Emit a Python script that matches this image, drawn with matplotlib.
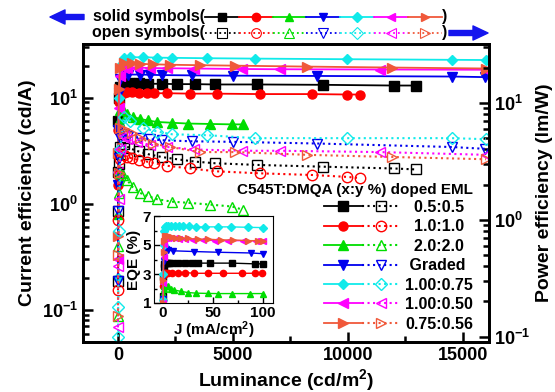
import matplotlib
matplotlib.use("Agg")
import matplotlib.pyplot as plt
from matplotlib.legend_handler import HandlerTuple
from matplotlib.patches import FancyArrowPatch
from matplotlib.ticker import MultipleLocator

plt.rcParams["font.family"] = ["Liberation Sans", "DejaVu Sans"]
plt.rcParams["font.weight"] = "bold"
plt.rcParams["axes.labelweight"] = "bold"
plt.rcParams["mathtext.fontset"] = "custom"
plt.rcParams["mathtext.rm"] = "Liberation Sans:bold"
plt.rcParams["mathtext.bf"] = "Liberation Sans:bold"
plt.rcParams["mathtext.default"] = "bf"

# подписи устройств, цвета и маркеры
labels = ["0.5:0.5", "1.0:1.0", "2.0:2.0", "Graded", "1.00:0.75", "1.00:0.50", "0.75:0.56"]
colors = ["#000000", "#ff0000", "#00dd00", "#0000ee", "#10eaea", "#ff00ff", "#f0583a"]
markers = ["s", "o", "^", "v", "D", "<", ">"]

# яркость (cd/m2), эффективность по току (cd/A), по мощности (lm/W)
lum_a = [2, 10, 40, 100, 250, 500, 900, 1300, 1900, 2560, 3350, 4220, 6050, 8900, 12000, 12950]
ce_a = [2, 6, 10, 12.5, 13.5, 13.6, 13.6, 13.5, 13.5, 13.4, 13.4, 13.3, 13.3, 13.2, 13.0, 13.0]
pe_a = [0.3, 1.2, 3, 4.2, 4.5, 4.1, 3.85, 3.65, 3.45, 3.3, 3.15, 3.05, 2.95, 2.85, 2.75, 2.7]

lum_b = [2, 10, 40, 100, 250, 400, 620, 900, 1260, 1550, 2150, 3130, 4300, 6170, 8430, 9960, 10520]
ce_b = [1.5, 5, 9, 10.6, 11.1, 11.2, 11.2, 11.1, 11.1, 11.0, 11.0, 10.9, 10.9, 10.8, 10.8, 10.7, 10.7]
pe_b = [0.25, 1.0, 2.4, 3.3, 3.6, 3.45, 3.35, 3.25, 3.15, 3.07, 2.9, 2.75, 2.6, 2.5, 2.42, 2.33, 2.28]

lum_c = [2, 10, 40, 90, 200, 390, 650, 960, 1300, 1700, 2350, 3040, 4000, 4960, 5430]
ce_c = [0.8, 3, 6, 7.6, 7.6, 7.0, 6.6, 6.3, 6.1, 5.9, 5.8, 5.7, 5.65, 5.6, 5.6]
pe_c = [0.15, 0.6, 1.7, 2.5, 2.4, 2.2, 1.9, 1.7, 1.6, 1.5, 1.43, 1.4, 1.35, 1.3, 1.22]

lum_d = [2, 10, 40, 100, 250, 430, 960, 1390, 1910, 3220, 5000, 8650, 14520, 15960]
ce_d = [1.5, 5, 11, 15, 16.3, 16.5, 16.5, 16.4, 16.3, 16.2, 16.1, 16.0, 15.8, 15.6]
pe_d = [0.3, 1.2, 3.4, 5.0, 5.4, 5.2, 5.0, 4.9, 4.8, 4.7, 4.65, 4.5, 4.2, 4.05]

lum_e = [2, 10, 40, 100, 250, 520, 1090, 1700, 2350, 3870, 5960, 9960, 14520, 16000]
ce_e = [0.2, 2, 10, 20, 23.5, 24, 24, 23.8, 23.7, 23.5, 23.3, 23.0, 22.7, 22.6]
pe_e = [0.1, 0.18, 0.8, 4, 7.6, 7.0, 6.1, 5.7, 5.4, 5.3, 5.0, 5.0, 5.0, 4.9]

lum_f = [2, 10, 40, 100, 250, 400, 830, 1390, 2130, 3300, 5400, 7050, 11400, 16000]
ce_f = [0.3, 2, 8, 16, 19, 19.2, 19.2, 19.0, 18.9, 18.8, 18.6, 18.5, 18.4, 18.3]
pe_f = [0.12, 0.4, 1.5, 4, 5.2, 4.9, 4.6, 4.4, 4.2, 4.0, 3.9, 3.9, 3.8, 3.6]

lum_g = [2, 10, 40, 90, 250, 610, 960, 1520, 2260, 3570, 5090, 8220, 11900, 16000]
ce_g = [0.5, 3, 12, 19, 21, 21, 20.8, 20.6, 20.4, 20.2, 20.0, 19.6, 19.2, 18.8]
pe_g = [0.15, 0.5, 2.5, 6.1, 6.0, 5.5, 5.0, 4.5, 4.2, 3.8, 3.8, 3.6, 3.45, 3.3]

# вставка: плотность тока (mA/cm2) и EQE (%)
j_a = [0.1, 0.3, 0.6, 1, 2, 3, 4, 6, 9, 15, 22, 29, 35, 47, 69, 92, 100]
eqe_a = [1.5, 2.8, 3.5, 3.7, 3.75, 3.75, 3.75, 3.75, 3.75, 3.75, 3.75, 3.75, 3.75, 3.75, 3.75, 3.7, 3.7]
j_b = [0.1, 0.3, 0.6, 1, 2, 3, 5, 9, 15, 22, 31, 45, 60, 79, 92, 99]
eqe_b = [1.2, 2.2, 2.9, 3.05, 3.1, 3.1, 3.1, 3.1, 3.1, 3.1, 3.05, 3.05, 3.05, 3.05, 3.05, 3.05]
j_c = [0.1, 0.3, 0.6, 1, 2, 3, 5, 8, 11, 18, 25, 33, 45, 55, 69, 87, 100]
eqe_c = [1.1, 1.6, 2.0, 2.2, 2.25, 2.2, 2.15, 2.0, 1.9, 1.8, 1.72, 1.68, 1.66, 1.65, 1.65, 1.65, 1.65]
j_d = [0.1, 0.3, 0.6, 1, 2, 3, 5, 10, 31, 55, 88, 100]
eqe_d = [1.3, 2.8, 3.9, 4.4, 4.65, 4.7, 4.65, 4.6, 4.55, 4.5, 4.45, 4.4]
j_e = [0.1, 0.3, 0.6, 1, 2, 3, 5, 8, 12, 16, 20, 26, 33, 42, 55, 68, 85, 100]
eqe_e = [1.2, 3.0, 5.0, 6.0, 6.25, 6.3, 6.3, 6.3, 6.3, 6.3, 6.28, 6.28, 6.25, 6.25, 6.25, 6.25, 6.22, 6.2]
j_f = [0.1, 0.3, 0.6, 1, 2, 3, 5, 8, 12, 16, 22, 30, 40, 52, 65, 80, 93, 100]
eqe_f = [1.0, 2.4, 4.2, 5.1, 5.45, 5.5, 5.5, 5.45, 5.45, 5.4, 5.4, 5.35, 5.35, 5.3, 5.3, 5.3, 5.28, 5.25]
j_g = [0.1, 0.3, 0.6, 1, 2, 3, 4, 6, 9, 13, 18, 25, 35, 45, 58, 70, 85, 95, 100]
eqe_g = [1.0, 2.6, 4.5, 5.3, 5.6, 5.65, 5.6, 5.6, 5.55, 5.5, 5.5, 5.45, 5.4, 5.4, 5.35, 5.35, 5.3, 5.3, 5.3]

lums = [lum_a, lum_b, lum_c, lum_d, lum_e, lum_f, lum_g]
ces = [ce_a, ce_b, ce_c, ce_d, ce_e, ce_f, ce_g]
pes = [pe_a, pe_b, pe_c, pe_d, pe_e, pe_f, pe_g]
js = [j_a, j_b, j_c, j_d, j_e, j_f, j_g]
eqes = [eqe_a, eqe_b, eqe_c, eqe_d, eqe_e, eqe_f, eqe_g]

fig = plt.figure(figsize=(5.55, 3.92), dpi=100)
ax = fig.add_axes([0.1495, 0.1276, 0.7315, 0.7602])
ax2 = ax.twinx()

solid_lines, open_lines = [], []
for lum, ce, pe, col, mk in zip(lums, ces, pes, colors, markers):
    ms = 5.5 if mk == "D" else 6.5
    s, = ax.plot(lum, ce, "-", color=col, marker=mk, ms=ms, lw=1.3)
    o, = ax2.plot(lum, pe, ":", color=col, marker=mk, ms=ms + 1, lw=1.5,
                  mfc="none", mec=col, mew=1)
    solid_lines.append(s)
    open_lines.append(o)

ax.set_yscale("log")
ax2.set_yscale("log")
ax.set_ylim(0.05, 32)
ax2.set_ylim(0.09, 32)
ax.set_xlim(-1520, 16130)
ax.xaxis.set_major_locator(MultipleLocator(5000))
ax.xaxis.set_minor_locator(MultipleLocator(2500))

for a in (ax, ax2):
    a.tick_params(which="both", direction="in", width=1.8, labelsize=13)
    a.tick_params(which="major", length=7)
    a.tick_params(which="minor", length=4)
    for sp in a.spines.values():
        sp.set_linewidth(2)

ax.set_xlabel("Luminance (cd/m$^2$)", fontsize=14, labelpad=2)
ax.set_ylabel("Current efficiency (cd/A)", fontsize=14)
ax2.set_ylabel("Power efficiency (lm/W)", fontsize=14)

# подписи в легенде примерно по центру столбца (пробелы спереди)
pad = {"0.5:0.5": 2, "1.0:1.0": 2, "2.0:2.0": 2, "Graded": 1}
leg_labels = [" " * pad.get(l, 0) + l for l in labels]

# легенда: сплошная линия + пунктир в одной строке
leg = ax2.legend(list(zip(solid_lines, open_lines)), leg_labels,
                 title="C545T:DMQA (x:y %) doped EML",
                 loc="lower right", bbox_to_anchor=(0.961, 0.035),
                 borderaxespad=0, borderpad=0, frameon=False,
                 handler_map={tuple: HandlerTuple(ndivide=None, pad=0)},
                 handlelength=4.75, handletextpad=0.3, labelspacing=0.28,
                 alignment="right", prop={"size": 11.5, "weight": "bold"},
                 title_fontproperties={"size": 11, "weight": "bold"})
leg._legend_box.sep = 2

# вставка с EQE
ins = fig.add_axes([154 / 555, 1 - 303 / 392, 119 / 555, 87 / 392])
ins.set_zorder(5)
for j, eqe, col, mk in zip(js, eqes, colors, markers):
    ms = 4 if mk == "D" else 4.5
    ins.plot(j, eqe, "-", color=col, marker=mk, ms=ms, lw=1)
ins.set_xlim(-9, 110)
ins.set_ylim(1, 7)
ins.set_xticks([0, 50, 100])
ins.set_xticks([25, 75], minor=True)
ins.set_yticks([1, 3, 5, 7])
ins.set_yticks([2, 4, 6], minor=True)
ins.tick_params(which="both", direction="in", width=1, labelsize=11, pad=2)
ins.tick_params(which="major", length=4)
ins.tick_params(which="minor", length=2)
ins.set_xlabel("J (mA/cm$^2$)", fontsize=11, labelpad=0)
ins.set_ylabel("EQE (%)", fontsize=11, labelpad=1)

# шапка: образцы символов и стрелки к осям
hdr = fig.add_axes([0.369, 0.8954, 0.427, 0.0816])
hdr.set_xlim(0, 7)
hdr.set_ylim(-0.5, 1.5)
hdr.axis("off")
for i, (col, mk) in enumerate(zip(colors, markers)):
    ms = 5 if mk == "D" else 6
    hdr.plot([i, i + 1], [1, 1], "-", color=col, lw=1.3, clip_on=False)
    hdr.plot([i + 0.5], [1], marker=mk, color=col, ms=ms, clip_on=False)
    hdr.plot([i, i + 1], [0, 0], ":", color=col, lw=1.3, clip_on=False)
    hdr.plot([i + 0.5], [0], marker=mk, mfc="none", mec=col, ms=ms + 1,
             mew=0.8, clip_on=False)

fig.text(0.3694, 1 - 17 / 392, "solid symbols(", ha="right", va="center", fontsize=11.5)
fig.text(0.3694, 1 - 33 / 392, "open symbols(", ha="right", va="center", fontsize=11.5)
fig.text(0.797, 1 - 17 / 392, ")", ha="left", va="center", fontsize=11.5)
fig.text(0.797, 1 - 33 / 392, ")", ha="left", va="center", fontsize=11.5)

arrow_style = "simple,head_length=0.9,head_width=0.85,tail_width=0.3"
fig.add_artist(FancyArrowPatch((84 / 555, 1 - 17 / 392), (50 / 555, 1 - 17 / 392),
                               transform=fig.transFigure, arrowstyle=arrow_style,
                               mutation_scale=12, color="#1515ee",
                               shrinkA=0, shrinkB=0))
fig.add_artist(FancyArrowPatch((449 / 555, 1 - 33 / 392), (488 / 555, 1 - 33 / 392),
                               transform=fig.transFigure, arrowstyle=arrow_style,
                               mutation_scale=12, color="#1515ee",
                               shrinkA=0, shrinkB=0))

fig.savefig("out.png", dpi=100)
